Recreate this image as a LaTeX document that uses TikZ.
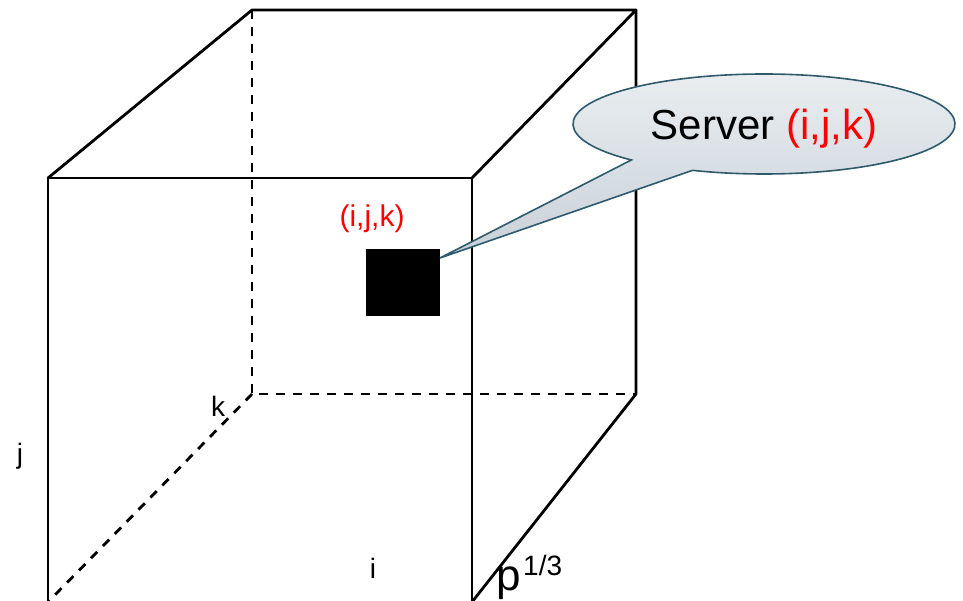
\documentclass[tikz,border=0pt]{standalone}
\usepackage{fontspec}
\setmainfont{Liberation Sans}
\usetikzlibrary{calc}
\begin{document}
\begin{tikzpicture}[x=1pt,y=1pt,
  edge/.style={line width=2.8pt,line cap=round,line join=round},
  hidden/.style={edge,line cap=butt,dash pattern=on 9pt off 8pt},
  lbl/.style={inner sep=0pt,anchor=base},
  callout/.style={draw=calloutline,line width=1.6pt,top color=calloutA,bottom color=calloutB}]
\definecolor{calloutline}{HTML}{2E5A6B}
\definecolor{calloutA}{HTML}{EAEEF1}
\definecolor{calloutB}{HTML}{C8D1D8}
\useasboundingbox (0,0) rectangle (963,600);
\begin{scope}
\clip (0,0) rectangle (963,600);
% cube corners: front face and back face
\coordinate (ftl) at (48,422);
\coordinate (ftr) at (472,422);
\coordinate (fbl) at (48,-2);
\coordinate (fbr) at (472,-2);
\coordinate (btl) at (252,590);
\coordinate (btr) at (636,590);
\coordinate (bbl) at (252,206);
\coordinate (bbr) at (636,206);
% hidden edges
\draw[hidden] (btl) -- (bbl) -- (bbr);
\draw[hidden] (bbl) -- (fbl);
% visible edges
\draw[edge] (fbl) -- (ftl) -- (ftr) -- (fbr);
\draw[edge] (ftl) -- (btl) -- (btr) -- (ftr);
\draw[edge] (btr) -- (bbr) -- (fbr);
\end{scope}
% the server cell
\fill (366,284) rectangle (440,351);
\coordinate (cell) at (440,342);
\node[lbl,text=red,font=\fontsize{30}{30}\selectfont] (cellname) at (372,373) {(i,j,k)};
% speech bubble pointing at the cell
\path[callout] (cell) -- ($(764,476)+(226:191 and 50)$)
  arc[start angle=226,end angle=-112,x radius=191,y radius=50] -- cycle;
\node[lbl,font=\fontsize{42}{42}\selectfont] (bubble) at (764,460) {Server \textcolor{red}{(i,j,k)}};
% axis labels
\node[lbl,font=\fontsize{28}{28}\selectfont] (lk) at (218,183) {k};
\node[lbl,font=\fontsize{28}{28}\selectfont] (lj) at (20,137) {j};
\node[lbl,font=\fontsize{28}{28}\selectfont] (li) at (373,22) {i};
\node[inner sep=0pt,anchor=base west,font=\fontsize{44}{44}\selectfont] (lp) at (496,10) {p};
\node[inner sep=0pt,anchor=base west,font=\fontsize{28}{28}\selectfont] (lexp) at (523,25) {1/3};
\end{tikzpicture}
\end{document}
